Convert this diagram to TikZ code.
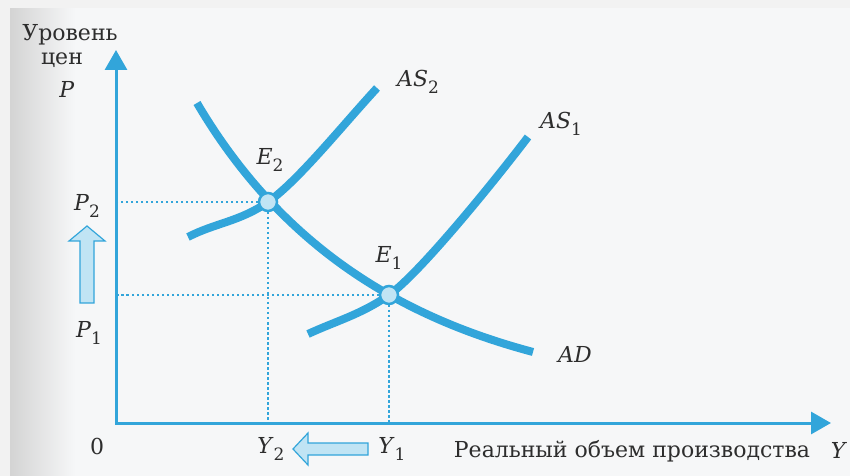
\documentclass[tikz,border=0pt]{standalone}
\usepackage{fontspec}
\setmainfont{DejaVu Serif}
\usetikzlibrary{arrows.meta}
\definecolor{ablue}{RGB}{50,165,218}
\definecolor{lblue}{RGB}{192,228,244}
\definecolor{paper}{RGB}{246,247,248}
\definecolor{ink}{RGB}{45,45,45}
\newcommand\lab[2]{\textit{#1}\raisebox{-0.33em}{\fontsize{17bp}{17bp}\selectfont #2}}
\begin{document}
\begin{tikzpicture}[x=1bp,y=-1bp,
  curve/.style={ablue, line width=8bp},
  axis/.style={ablue, line width=3bp},
  guide/.style={ablue, line width=1.4bp, dash pattern=on 2.5bp off 2.5bp},
  eqpt/.style={circle, draw=ablue, fill=lblue, line width=2.5bp, minimum size=18bp, inner sep=0pt},
  lbl/.style={text=ink, font=\fontsize{22bp}{25bp}\selectfont, inner sep=0pt},
  fat/.style={draw=ablue, fill=lblue, line width=1.2bp, line join=miter}]
\useasboundingbox (0,0) rectangle (850,476);
\fill[paper] (0,0) rectangle (850,476);
\shade[left color=black!17, right color=paper] (10,8) rectangle (75,476);
\fill[black!5] (0,0) rectangle (850,8);
\fill[black!5] (0,0) rectangle (10,476);
% coordinates
\coordinate (O) at (116,423);
\coordinate (ytip) at (116,50);
\coordinate (xtip) at (831,423);
\coordinate (e1) at (389,295);
\coordinate (e2) at (268,202);
% axes
\draw[axis, {Triangle[length=20bp,width=22bp]}-{Triangle[length=20bp,width=22bp]}] (ytip) -- (O) -- (xtip);
% guides
\draw[guide] (e2) -- (e2 -| O);
\draw[guide] (e2) -- (e2 |- O);
\draw[guide] (e1) -- (e1 -| O);
\draw[guide] (e1) -- (e1 |- O);
% curves
\draw[curve] (197,103) .. controls (287,256) and (413,320) .. (533,352);
\draw[curve] (188,237) .. controls (215,223) and (240,221.6) .. (e2)
             .. controls (298,181) and (342,126) .. (377,88);
\draw[curve] (308,334) .. controls (336,321) and (361,314.6) .. (e1)
             .. controls (419,274) and (493,183) .. (528,137);
% equilibrium points
\node[eqpt] (E2) at (e2) {};
\node[eqpt] (E1) at (e1) {};
% block arrows
\draw[fat] (80,303) -- (80,241) -- (69,241) -- (87,226) -- (105,241) -- (94,241) -- (94,303) -- cycle;
\draw[fat] (368,443) -- (308,443) -- (308,433) -- (293,449) -- (308,465) -- (308,455) -- (368,455) -- cycle;
% labels
\node[lbl] (lvl) at (70,35) {Уровень};
\node[lbl] (cen) at (62,60) {цен};
\node[lbl] (Pax) at (67,89) {\textit{P}};
\node[lbl] (P2) at (87,206) {\lab{P}{2}};
\node[lbl] (P1) at (89,333) {\lab{P}{1}};
\node[lbl] (E2l) at (270,160) {\lab{E}{2}};
\node[lbl] (E1l) at (389,258) {\lab{E}{1}};
\node[lbl] (AS2) at (418,82) {\lab{AS}{2}};
\node[lbl] (AS1) at (561,124) {\lab{AS}{1}};
\node[lbl] (AD) at (575,354) {\textit{AD}};
\node[lbl] (zero) at (97,446) {0};
\node[lbl] (Y2) at (271,449) {\lab{Y}{2}};
\node[lbl] (Y1) at (392,449) {\lab{Y}{1}};
\node[lbl] (xlab) at (632,451) {Реальный объем производства};
\node[lbl] (Yax) at (839,450) {\textit{Y}};
\end{tikzpicture}
\end{document}
